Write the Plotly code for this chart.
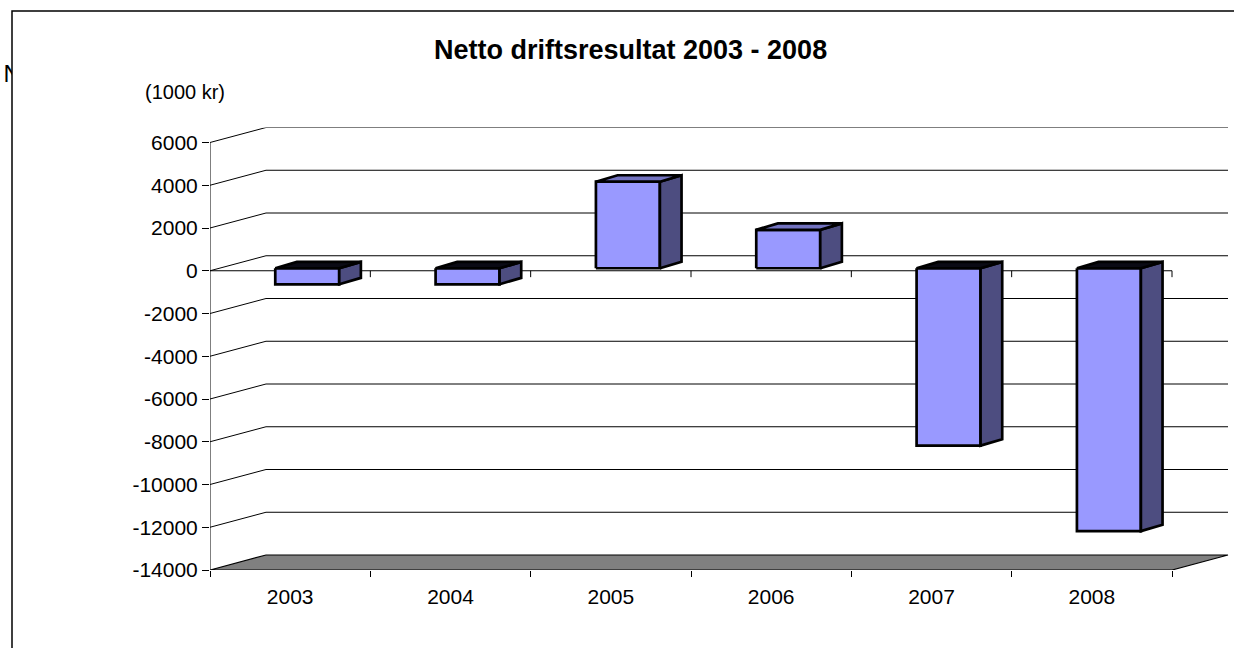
import plotly.graph_objects as go

# ---------------- data ----------------
years = ["2003", "2004", "2005", "2006", "2007", "2008"]
values = [-750, -750, 4050, 1800, -8300, -12300]
y_ticks = [-14000, -12000, -10000, -8000, -6000, -4000, -2000, 0, 2000, 4000, 6000]
title_text = "Netto driftsresultat 2003 - 2008"
unit_text = "(1000 kr)"

# ---------------- geometry / style ----------------
W, H = 1234, 648
X_LEFT_PX, X_RIGHT_PX = 210, 1234
Y_BOTTOM_PX, Y_TOP_PX = 570, 127.5
PX_PER_X = 160.333
YMIN, YMAX_FRONT = -14000, 6000
DX = 56 / PX_PER_X            # depth offset (x units)
DY = 702                      # depth offset (y units)
YMAX = YMAX_FRONT + DY
XMAX = (X_RIGHT_PX - X_LEFT_PX) / PX_PER_X

BAR_OFF = 0.407               # front face left offset inside category
BAR_W = 0.399
BAR_DDX = 0.135
BAR_DDY = 300
BAR_BASE = 117

FRONT = "#9999ff"
SIDE = "#4d4d80"
TOP_POS = "#7373c0"
TOP_NEG = "#0a0a14"
FLOOR = "#808080"
FONT = "Liberation Sans, Arial, sans-serif"

fig = go.Figure()

def poly(xs, ys, fill, lw=2.7):
    fig.add_trace(go.Scatter(x=xs + [xs[0]], y=ys + [ys[0]], mode="lines", fill="toself",
                             fillcolor=fill, line=dict(color="black", width=lw),
                             hoverinfo="skip", showlegend=False))

def line(xs, ys, color="black", w=1):
    fig.add_trace(go.Scatter(x=xs, y=ys, mode="lines", line=dict(color=color, width=w),
                             hoverinfo="skip", showlegend=False))

n = len(years)

# back wall gridlines + diagonals
gx, gy = [], []
for v in y_ticks[1:]:
    gx += [0, DX, n + DX, None]
    gy += [v, v + DY, v + DY, None]
line(gx, gy)

# floor
poly([0, n, n + DX, DX], [YMIN, YMIN, YMIN + DY, YMIN + DY], FLOOR, lw=1.2)

# front zero line with category ticks
zx, zy = [0, n, None], [0, 0, None]
for i in range(1, n + 1):
    zx += [i, i, None]
    zy += [0, -300, None]
line(zx, zy)

# value axis line
line([0, 0], [YMIN, YMAX_FRONT])

# bars
for i, v in enumerate(values):
    xl = i + BAR_OFF
    xr = xl + BAR_W
    b = BAR_BASE
    t = b + v
    poly([xl, xr, xr, xl], [b, b, t, t], FRONT)
    poly([xr, xr + BAR_DDX, xr + BAR_DDX, xr], [b, b + BAR_DDY, t + BAR_DDY, t], SIDE)
    top_y = max(b, t)
    poly([xl, xr, xr + BAR_DDX, xl + BAR_DDX], [top_y, top_y, top_y + BAR_DDY, top_y + BAR_DDY],
         TOP_POS if v > 0 else TOP_NEG)

# clipped "N" at far left
fig.add_trace(go.Scatter(x=[0.3], y=[(H - 76) / H], mode="text", text=["N"],
                         textposition="middle right", cliponaxis=True,
                         textfont=dict(family=FONT, size=24, color="black"),
                         xaxis="x2", yaxis="y2", hoverinfo="skip", showlegend=False))

fig.update_layout(
    width=W, height=H,
    margin=dict(l=0, r=0, t=0, b=0, autoexpand=False),
    paper_bgcolor="white", plot_bgcolor="white",
    showlegend=False,
    xaxis=dict(domain=[X_LEFT_PX / W, X_RIGHT_PX / W], range=[0, XMAX], automargin=False,
               tickvals=[i + 0.5 for i in range(n)], ticktext=years,
               ticks="outside", ticklen=8, tickcolor="rgba(0,0,0,0)",
               minor=dict(tickvals=list(range(n + 1)), ticks="outside", ticklen=6,
                          tickcolor="black", tickwidth=1, showgrid=False),
               showgrid=False, zeroline=False, showline=False,
               tickfont=dict(family=FONT, size=21, color="black")),
    yaxis=dict(domain=[(H - Y_BOTTOM_PX) / H, (H - Y_TOP_PX) / H], range=[YMIN, YMAX], automargin=False,
               tickvals=y_ticks, ticktext=[str(v) for v in y_ticks],
               ticks="outside", ticklen=7, tickcolor="black", tickwidth=1,
               showgrid=False, zeroline=False, showline=False,
               tickfont=dict(family=FONT, size=21, color="black")),
    xaxis2=dict(domain=[0, 12 / W], range=[0, 1], visible=False, anchor="y2", automargin=False),
    yaxis2=dict(domain=[0, 1], range=[0, 1], visible=False, anchor="x2", automargin=False),
    annotations=[
        dict(text="<b>" + title_text + "</b>", x=630 / W, y=(H - 50) / H, xref="paper", yref="paper",
             showarrow=False, xanchor="center", yanchor="middle",
             font=dict(family=FONT, size=27, color="black")),
        dict(text=unit_text, x=184.5 / W, y=(H - 92) / H, xref="paper", yref="paper",
             showarrow=False, xanchor="center", yanchor="middle",
             font=dict(family=FONT, size=20, color="black")),
    ],
    shapes=[dict(type="rect", xref="paper", yref="paper", x0=12 / W, x1=1.05,
                 y0=-0.05, y1=(H - 11) / H, line=dict(color="black", width=1.5),
                 fillcolor="rgba(0,0,0,0)", layer="above")],
)

fig.write_html("out.html", config={"displayModeBar": False},
               post_script="document.body.style.margin='0';document.body.style.overflow='hidden';")
